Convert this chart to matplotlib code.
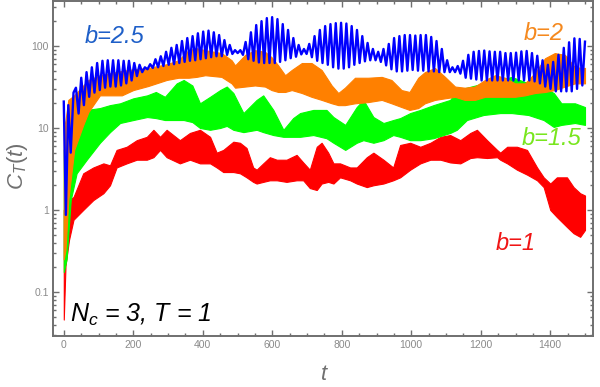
import matplotlib
matplotlib.use("Agg")
import matplotlib.pyplot as plt
import numpy as np
from matplotlib.ticker import FixedLocator, NullFormatter


# b = 1 (red) band: upper / lower envelope
RED_T = [0, 5, 15, 28, 56, 85, 114, 133, 152, 181, 210, 239, 258, 277, 296, 334,
         363, 392, 421, 440, 459, 488, 507, 526, 545, 555, 574, 593, 613, 641, 670,
         689, 708, 728, 742, 761, 776, 795, 824, 843, 872, 891, 920, 948, 968, 997,
         1026, 1055, 1084, 1112, 1141, 1170, 1189, 1218, 1247, 1256, 1276, 1304,
         1333, 1362, 1381, 1400, 1419, 1448, 1467, 1486, 1500]
RED_HI = [1.0, 1.15, 1.32, 1.44, 2.8, 3.3, 3.7, 3.5, 5.4, 5.9, 7.1, 7.8, 9.5, 7.8,
          9.5, 7.1, 8.7, 9.5, 7.8, 5.0, 5.4, 6.8, 6.6, 5.7, 3.3, 3.1, 3.7, 4.4, 4.1,
          4.1, 4.7, 3.8, 3.1, 5.9, 6.6, 5.0, 3.7, 3.7, 3.3, 3.3, 4.4, 5.0, 4.1, 3.3,
          6.2, 6.6, 5.9, 6.6, 7.8, 8.2, 7.1, 8.7, 9.5, 7.1, 5.4, 5.0, 5.9, 5.9, 5.4,
          3.3, 2.5, 2.1, 2.5, 2.5, 1.9, 1.6, 1.5]
RED_LO = [0.046, 0.21, 0.43, 0.76, 1.0, 1.32, 1.6, 2.0, 3.3, 3.7, 4.1, 4.1, 4.4, 5.4,
          4.4, 3.7, 4.1, 3.7, 3.7, 3.3, 2.9, 2.9, 2.8, 2.5, 2.2, 2.1, 2.2, 2.3, 2.3,
          2.2, 2.3, 2.3, 1.85, 1.75, 2.1, 2.2, 2.1, 2.5, 2.3, 2.1, 1.9, 2.0, 2.1, 2.3,
          2.5, 3.1, 3.7, 4.1, 4.1, 3.8, 3.7, 4.3, 4.4, 4.3, 4.4, 4.1, 3.7, 3.1, 2.7,
          2.3, 1.9, 1.0, 0.82, 0.62, 0.52, 0.47, 0.57]

# b = 1.5 (green) band
GREEN_T = [0, 8, 20, 37, 66, 104, 133, 162, 200, 240, 265, 291, 325, 345, 370, 392,
           421, 450, 469, 488, 517, 555, 574, 603, 632, 660, 680, 718, 756, 776, 810,
           843, 862, 891, 920, 948, 968, 997, 1026, 1064, 1112, 1131, 1160, 1208,
           1256, 1289, 1337, 1381, 1410, 1432, 1471, 1500]
GREEN_HI = [5.4, 7.1, 10.9, 14.4, 16.6, 17.5, 19, 20, 23, 25, 27.5, 24, 35, 38.5, 33,
            20, 24, 29, 32, 26.7, 15.2, 22, 25, 16.6, 9.5, 13.2, 15.2, 16.6, 16.6,
            13.6, 10.9, 18, 22, 13.6, 11.5, 12.5, 13.2, 15.2, 16.6, 19, 22, 29, 31,
            35, 38.5, 42, 35, 31, 26.7, 20, 20, 18]
GREEN_LO = [0.175, 0.25, 1.32, 2.8, 4.1, 6.6, 8.9, 11.5, 12.5, 13.6, 13.2, 12.5, 12.5,
            12.5, 11.8, 10, 9.5, 10, 10.6, 9.5, 8.9, 9.5, 8.9, 8.2, 7.8, 7.8, 7.8, 8.2,
            7.5, 6.6, 5.4, 6.6, 7.1, 6.6, 7.1, 8.2, 7.8, 7.1, 7.1, 7.5, 8.7, 9.5, 12.5,
            14.4, 15.2, 15.2, 14.4, 12.5, 10.3, 10.9, 11.5, 10.9]

# b = 2 (orange) band
ORANGE_T = [0, 5, 13, 30, 56, 71, 104, 167, 200, 243, 296, 330, 359, 382, 407, 454,
            483, 493, 522, 550, 579, 598, 617, 637, 656, 685, 713, 742, 771, 790, 809,
            838, 876, 915, 943, 972, 995, 1020, 1039, 1068, 1097, 1126, 1154, 1183,
            1212, 1241, 1270, 1298, 1327, 1356, 1385, 1413, 1442, 1471, 1500]
ORANGE_HI = [9.5, 12.5, 22, 25, 33, 38.5, 44, 49.6, 52, 54, 60, 67, 89, 94, 89, 82,
             67, 58, 78, 89, 85, 73, 58, 44, 51, 62, 62, 51, 33, 26.7, 31, 41, 41, 42,
             38.5, 29, 27.5, 41, 48, 54, 42, 32, 31, 32, 38.5, 44, 41, 35, 35, 47, 71,
             82, 78, 55, 54]
ORANGE_LO = [0.25, 0.33, 1.32, 5.4, 10.9, 15.7, 25, 25, 29, 32.5, 38.5, 41, 41, 42,
             44, 42, 35, 31, 32, 33, 32, 29, 27.5, 27.5, 29, 26.7, 24, 22, 20, 19, 19,
             20, 20.7, 22, 20, 18, 16.6, 17.5, 20, 22, 23, 24, 22, 22, 24, 24, 24, 24,
             25, 26.7, 27.5, 29, 32, 35, 35]

# b = 2.5 (blue): start of the curve, then successive maxima and minima
BLUE_START_T = [0, 6, 13, 20, 28]
BLUE_START_V = [21, 0.87, 19, 5, 27]
BLUE_PEAKS = [31, 41, 48, 55, 62, 66, 67, 67, 67, 66,
              66, 62, 59, 55, 60, 69, 75, 85, 95, 103,
              115, 125, 132, 143, 150, 154, 147, 136, 118, 103,
              89, 89, 112, 147, 180, 201, 219, 225, 213, 185,
              157, 125, 103, 92, 106, 132, 157, 175, 185, 190,
              192, 188, 175, 157, 132, 109, 92, 85, 92, 106,
              125, 132, 136, 136, 134, 136, 136, 129, 115, 92,
              67, 55, 57, 66, 78, 85, 87, 88, 86, 85,
              85, 82, 82, 83, 86, 87, 82, 76, 67, 59,
              64, 78, 95, 111, 124, 122, 113]
BLUE_TROUGHS = [15, 19, 24, 27, 29, 31, 32, 32, 33, 35,
                38, 43, 48, 52, 54, 55, 57, 59, 60, 62,
                64, 66, 67, 69, 71, 73, 75, 75, 78, 80,
                82, 78, 69, 66, 63, 62, 62, 62, 64, 67,
                71, 74, 79, 80, 73, 66, 62, 59, 55, 53,
                53, 55, 59, 62, 65, 67, 67, 64, 58, 52,
                49, 49, 50, 51, 50, 50, 49, 49, 48, 48,
                48, 48, 46, 41, 40, 39, 38, 38, 38, 38,
                38, 38, 38, 38, 38, 38, 37, 35, 32, 30,
                28, 28, 28, 28, 30, 33]
BLUE_FIRST_PEAK_T = 35
BLUE_PERIOD = 15.26

X_TICKS = [0, 200, 400, 600, 800, 1000, 1200, 1400]
Y_TICKS = [0.1, 1, 10, 100]
Y_TICK_LABELS = ["0.1", "1", "10", "100"]

GRAY = "#6f6f6f"
TICK_TEXT = "#8a8a8a"


def blue_curve():
    peaks_t = BLUE_FIRST_PEAK_T + BLUE_PERIOD * np.arange(len(BLUE_PEAKS))
    troughs_t = peaks_t[: len(BLUE_TROUGHS)] + BLUE_PERIOD / 2
    t = np.concatenate([BLUE_START_T, peaks_t, troughs_t])
    v = np.concatenate([BLUE_START_V, BLUE_PEAKS, BLUE_TROUGHS])
    order = np.argsort(t)
    return t[order], v[order]


def main() -> None:
    plt.rcParams["font.family"] = ["Liberation Sans", "DejaVu Sans"]
    plt.rcParams["mathtext.fontset"] = "custom"
    plt.rcParams["mathtext.it"] = "Liberation Sans:italic"
    plt.rcParams["mathtext.rm"] = "Liberation Sans"

    fig = plt.figure(figsize=(6.0, 3.87), dpi=100)
    ax = fig.add_axes([53 / 600, 1 - 336 / 387, 540 / 600, 335 / 387])

    ax.fill_between(RED_T, RED_LO, RED_HI, color="#ff0000", lw=0.8, zorder=2)
    ax.fill_between(GREEN_T, GREEN_LO, GREEN_HI, color="#00ff00", lw=0.8, zorder=3)
    ax.fill_between(ORANGE_T, ORANGE_LO, ORANGE_HI, color="#ff8000", lw=0.8, zorder=4)

    bt, bv = blue_curve()
    ax.plot(bt, bv, color="#0000ff", lw=1.7, solid_joinstyle="round", zorder=5)

    ax.set_yscale("log")
    ax.set_xlim(-31, 1523)
    ax.set_ylim(0.029, 354)

    ax.xaxis.set_major_locator(FixedLocator(X_TICKS))
    ax.xaxis.set_minor_locator(FixedLocator(np.arange(0, 1501, 50)))
    ax.yaxis.set_major_locator(FixedLocator(Y_TICKS))
    ax.set_yticklabels(Y_TICK_LABELS)
    minor_y = [m * d for d in [0.01, 0.1, 1, 10, 100] for m in range(2, 10)]
    ax.yaxis.set_minor_locator(FixedLocator(minor_y))
    ax.yaxis.set_minor_formatter(NullFormatter())

    ax.tick_params(which="both", direction="in", top=True, right=True,
                   color=GRAY, labelcolor=TICK_TEXT, labelsize=7.5, width=1.0)
    ax.tick_params(which="major", length=4.5, pad=3)
    ax.tick_params(which="minor", length=2.5)
    for spine in ax.spines.values():
        spine.set_color(GRAY)
        spine.set_linewidth(1.4)

    def put(x, y, s, **kw):
        fig.text(x / 600, 1 - y / 387, s, **kw)

    put(115, 43, "b=2.5", color="#1e5fc8", fontsize=17, style="italic",
        ha="center", va="baseline")
    put(544, 40, "b=2", color="#f5891e", fontsize=17, style="italic",
        ha="center", va="baseline")
    put(552, 145, "b=1.5", color="#78e61e", fontsize=17, style="italic",
        ha="center", va="baseline")
    put(516, 250, "b=1", color="#f01414", fontsize=17, style="italic",
        ha="center", va="baseline")
    put(70, 322, r"$N_c$ = 3, $T$ = 1", color="black", fontsize=18,
        style="italic", ha="left", va="baseline")

    put(18, 166, r"$C_T(t)$", color="#707070", fontsize=16, rotation=90,
        ha="center", va="center")
    put(324, 374, r"$t$", color="#707070", fontsize=16, ha="center", va="center")

    fig.savefig("out.png", dpi=100)
    plt.close(fig)


if __name__ == "__main__":
    main()
